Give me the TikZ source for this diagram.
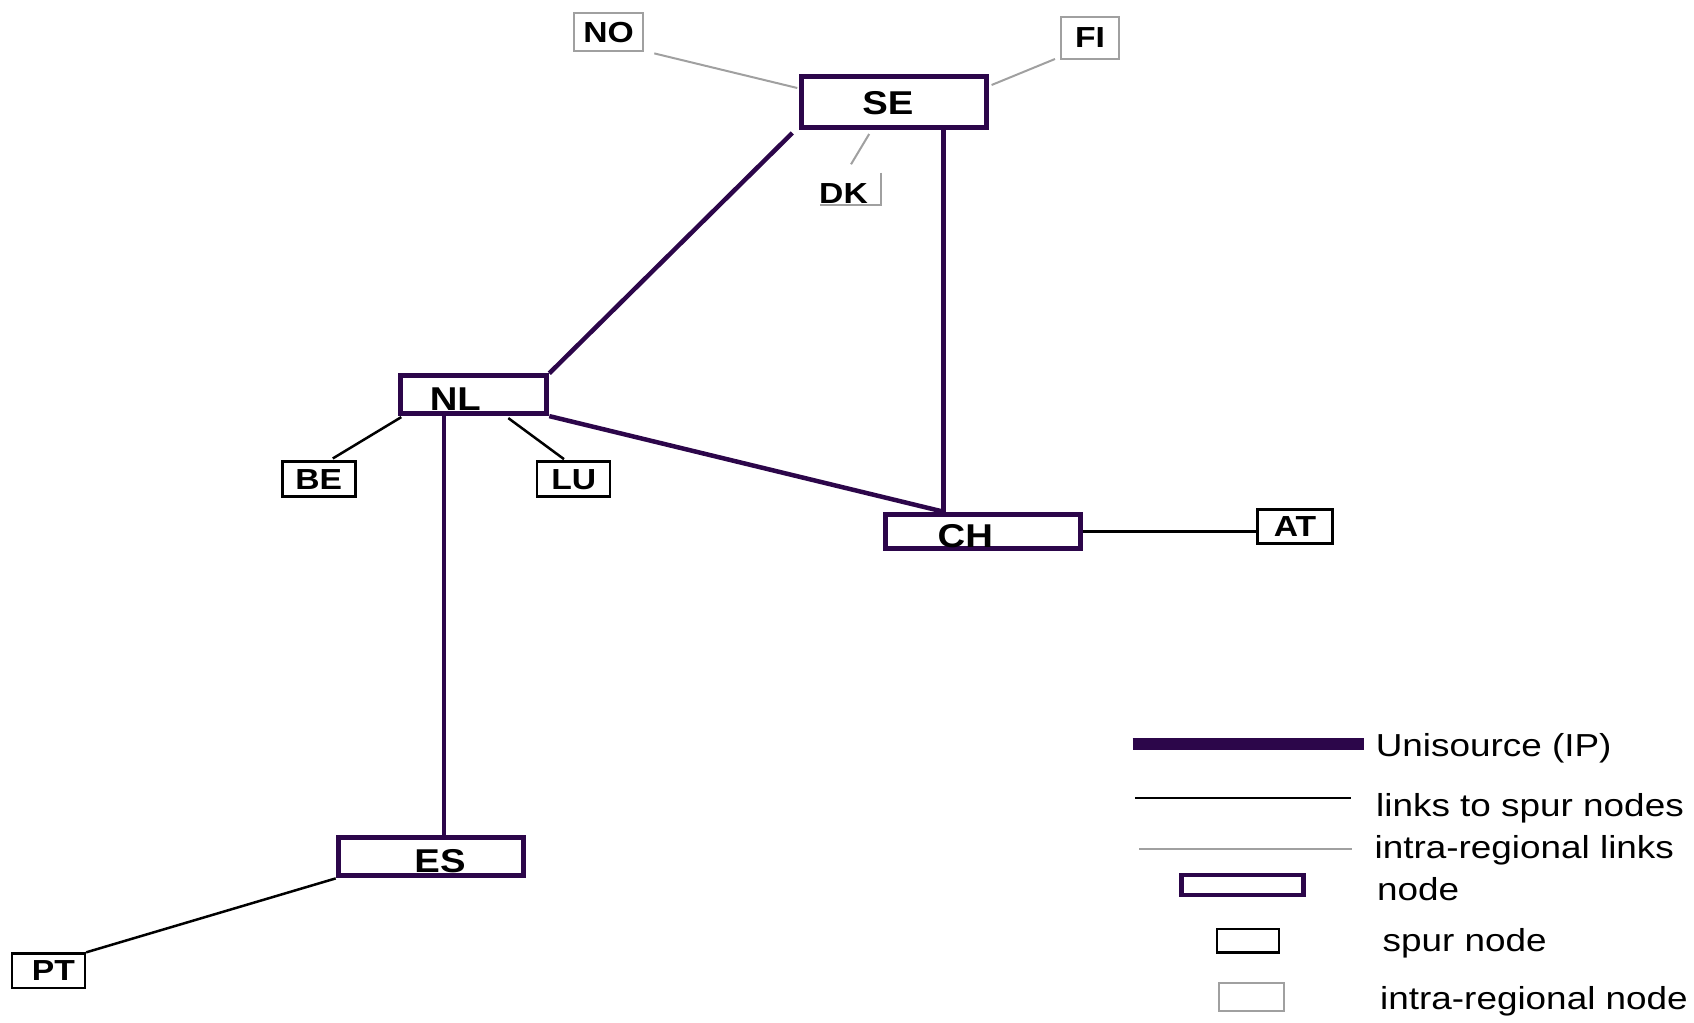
\documentclass[tikz,border=0pt]{standalone}
\usepackage{fontspec}
\setmainfont[FakeStretch=1.16]{Liberation Sans}
\usetikzlibrary{calc}
\definecolor{unipurple}{RGB}{44,6,74}
\definecolor{intragray}{RGB}{160,160,160}
\tikzset{
  hub/.style={draw=unipurple, line width=2.5pt, inner sep=0pt, text height=15.8pt, text depth=0pt,
    font=\bfseries\fontsize{16.5}{18}\selectfont},
  spur/.style={draw=black, line width=1.25pt, inner sep=0pt, minimum width=36.5pt, minimum height=17.5pt,
    font=\bfseries\fontsize{14.5}{16}\selectfont},
  intra/.style={draw=intragray, line width=1pt, inner sep=0pt,
    font=\bfseries\fontsize{14.5}{16}\selectfont},
  unilink/.style={draw=unipurple, line width=2.25pt},
  spurlink/.style={draw=black, line width=1.25pt},
  intralink/.style={draw=intragray, line width=1pt},
  legtext/.style={anchor=base west, inner sep=0pt, font=\fontsize{15.9}{18}\selectfont}
}
\begin{document}
\begin{tikzpicture}[x=0.5pt, y=-0.5pt]
\useasboundingbox (0,0) rectangle (1694,1023);
% main nodes
\node[hub, minimum width=92.4pt, minimum height=25.5pt, text height=12.5pt] (SE) at (894.2,102) {SE\hspace*{6.4pt}};
\node[hub, minimum width=73pt, minimum height=18.9pt] (NL) at (473.8,394.7) {NL\hspace*{18.5pt}};
\node[hub, minimum width=97.4pt, minimum height=17.2pt] (CH) at (982.9,531.4) {CH\hspace*{17.6pt}};
\node[hub, minimum width=92.8pt, minimum height=19.2pt] (ES) at (431,856.7) {\hspace*{9pt}ES};
% spur nodes
\node[spur] (BE) at (318.8,479.2) {BE};
\node[spur] (LU) at (573.7,479.2) {LU};
\node[spur, minimum width=37.7pt, minimum height=17pt] (AT) at (1295,526.7) {AT};
\node[spur, minimum height=17.2pt] (PT) at (48.4,970.8) {\hspace*{5pt}PT};
% intra-regional nodes
\node[intra, minimum width=34.8pt, minimum height=19.2pt] (NO) at (608.5,32.2) {NO};
\node[intra, minimum width=29pt, minimum height=21pt] (FI) at (1090,38) {FI};
\node[intra, draw=none] (DK) at (843.5,193.7) {DK};
\draw[intralink] ($(DK.center)+(37.8,-21)$) -- ($(DK.center)+(37.8,11.3)$) -- ($(DK.center)+(-23.5,11.3)$);
% Unisource links
\coordinate (chtop) at ($(CH.north west)+(60.5,0)$);
\coordinate (nlbot) at ($(NL.south)+(-30,0)$);
\draw[unilink] ($(SE.south west)+(-7,3)$) -- (NL.north east);
\draw[unilink] (SE.south -| chtop) -- (chtop);
\draw[unilink] (NL.south east) -- (chtop);
\draw[unilink] (nlbot) -- (nlbot |- ES.north);
% spur links
\draw[spurlink] ($(NL.south west)+(3,1)$) -- ($(BE.north)+(14,-2)$);
\draw[spurlink] ($(NL.south)+(34.5,2)$) -- ($(LU.north)+(-9.7,-1.3)$);
\draw[spurlink] (CH.east) -- (CH.east -| AT.west);
\draw[spurlink] (ES.south west) -- (PT.north east);
% intra-regional links
\draw[intralink] ($(NO.south east)+(10,1)$) -- ($(SE.north west)+(-2,14)$);
\draw[intralink] ($(SE.north east)+(2.5,11)$) -- ($(FI.south west)+(-5,-1)$);
\draw[intralink] ($(SE.south)+(-25,4)$) -- ($(DK.center)+(7.5,-29.4)$);
% legend
\draw[unilink, line width=5.85pt] (1132.7,744) -- (1364,744);
\draw[spurlink, line width=1.15pt] (1135,798.3) -- (1351,798.3);
\draw[intralink] (1139.3,849.3) -- (1351.7,849.3);
\node[hub, minimum width=61.1pt, minimum height=10pt, line width=2.3pt, text height=0pt] (lgnode) at (1242.5,885) {};
\node[spur, minimum width=31pt, minimum height=11.8pt] (lgspur) at (1248,940.8) {};
\node[intra, minimum width=32.5pt, minimum height=13.7pt] (lgintra) at (1251.5,997) {};
\node[legtext] (lgUni) at (1375.4,756) {Unisource (IP)};
\node[legtext] (lgSpurLink) at (1375.8,816) {links to spur nodes};
\node[legtext] (lgIntraLink) at (1374.2,858) {intra-regional links};
\node[legtext] (lgNode) at (1376.8,900) {node};
\node[legtext] (lgSpur) at (1382.2,951) {spur node};
\node[legtext] (lgIntra) at (1379.8,1009) {intra-regional node};
\end{tikzpicture}
\end{document}
